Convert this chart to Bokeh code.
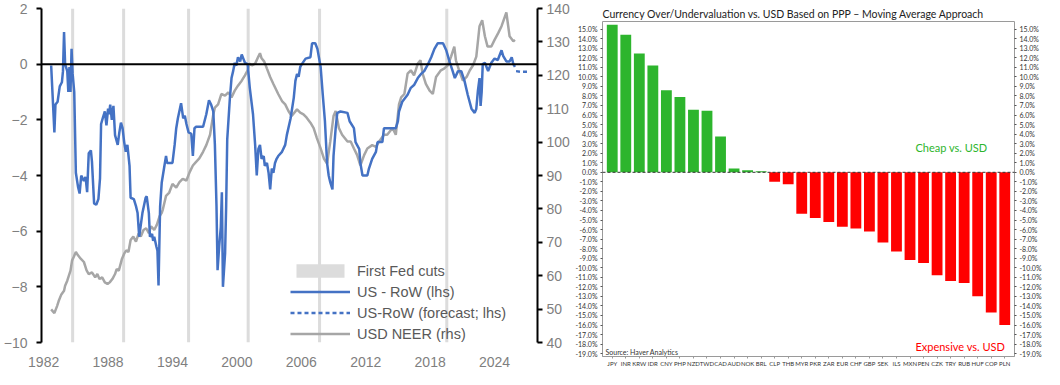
from bokeh.plotting import figure
from bokeh.models import (Range1d, LinearAxis, FixedTicker, Span, Label, Legend, LegendItem,
                          PrintfTickFormatter, SingleIntervalTicker, FactorRange)
from bokeh.layouts import row, column
from bokeh.embed import file_html
from bokeh.resources import INLINE

# ---------------- Left panel data ----------------
us_row_year = [1982.7, 1983.0, 1983.1, 1983.3, 1983.5, 1983.7, 1983.8, 1983.9, 1984.0, 1984.2, 1984.3, 1984.4,
               1984.5, 1984.6, 1984.7, 1984.85, 1985.0, 1985.2, 1985.35, 1985.5, 1985.75, 1985.9, 1986.05, 1986.2,
               1986.4, 1986.5, 1986.7, 1986.9, 1987.1, 1987.25, 1987.35, 1987.5, 1987.7, 1987.85, 1988.0, 1988.1,
               1988.2, 1988.35, 1988.5, 1988.65, 1988.9, 1989.05, 1989.2, 1989.35, 1989.5, 1989.65, 1989.8, 1990.0,
               1990.1, 1990.4, 1990.6, 1990.75, 1990.9, 1991.2, 1991.5, 1991.6, 1991.8, 1991.9, 1992.1, 1992.2,
               1992.3, 1992.5, 1992.6, 1992.7, 1992.85, 1993.0, 1993.25, 1993.4, 1993.5, 1994.0, 1994.2, 1994.35,
               1994.5, 1994.8, 1995.0, 1995.15, 1995.3, 1995.5, 1995.75, 1995.9, 1996.05, 1996.2, 1996.85, 1997.15,
               1997.4, 1997.6, 1997.8, 1997.95, 1998.1, 1998.2, 1998.35, 1998.5, 1998.6, 1998.7, 1998.9, 1999.0,
               1999.1, 1999.35, 1999.5, 1999.65, 1999.8, 1999.95, 2000.1, 2000.3, 2000.45, 2000.6, 2000.75, 2001.0,
               2001.2, 2001.5, 2001.7, 2001.85, 2002.0, 2002.15, 2002.3, 2002.5, 2002.6, 2002.8, 2002.95, 2003.1,
               2003.25, 2003.4, 2003.55, 2003.7, 2003.85, 2004.2, 2004.5, 2004.65, 2005.0, 2005.3, 2005.45, 2005.6,
               2005.75, 2005.9, 2006.05, 2006.4, 2006.85, 2007.0, 2007.3, 2007.5, 2007.8, 2008.0, 2008.2, 2008.4,
               2008.55, 2008.7, 2008.9, 2009.0, 2009.2, 2009.35, 2009.65, 2010.3, 2010.5, 2010.9, 2011.05, 2011.4,
               2011.5, 2011.7, 2012.15, 2012.3, 2012.6, 2012.95, 2013.1, 2013.55, 2013.7, 2014.8, 2015.0, 2015.1,
               2015.4, 2015.9, 2016.2, 2016.5, 2016.85, 2017.15, 2017.45, 2017.8, 2018.1, 2018.4, 2018.7, 2019.2,
               2019.5, 2019.8, 2020.1, 2020.3, 2020.6, 2020.9, 2021.2, 2021.5, 2021.85, 2022.15, 2022.3, 2022.45,
               2022.6, 2022.7, 2022.8, 2022.9, 2023.1, 2023.4, 2023.7, 2024.0, 2024.3, 2024.65, 2024.8, 2025.1,
               2025.4, 2025.6, 2025.75, 2025.9]
us_row_val = [-0.05, -2.45, -1.45, -1.35, -0.8, -0.65, -0.25, 1.15, 0.0, -0.25, -1.0, -0.1,
              -1.0, 0.55, -0.35, -1.0, -3.9, -4.4, -4.65, -4.0, -4.2, -4.05, -4.6, -3.2,
              -3.1, -3.5, -5.0, -5.05, -4.85, -4.1, -2.15, -1.95, -1.7, -2.2, -1.6, -1.8,
              -1.45, -2.0, -1.5, -2.55, -2.9, -2.45, -2.1, -2.3, -2.8, -3.15, -2.9, -3.65,
              -4.8, -4.85, -5.1, -5.35, -6.2, -5.35, -4.8, -4.75, -5.35, -6.2, -6.1, -6.35,
              -6.2, -6.55, -6.7, -7.95, -5.1, -4.25, -3.65, -3.3, -3.55, -3.55, -2.9, -2.3,
              -1.95, -1.4, -1.95, -1.85, -2.15, -2.45, -2.5, -3.3, -2.3, -2.25, -2.25, -1.8,
              -1.3, -1.45, -1.7, -2.9, -5.1, -7.4, -6.55, -5.85, -4.6, -8.0, -6.8, -5.1,
              -2.7, -1.2, -0.5, -0.25, 0.05, -0.05, 0.25, 0.1, 0.35, 0.2, 0.05, 0.0,
              -0.85, -1.8, -2.9, -4.0, -3.05, -2.9, -3.4, -3.3, -3.65, -3.55, -3.9, -4.5,
              -3.75, -3.9, -3.55, -3.4, -3.3, -3.15, -2.9, -2.55, -1.95, -1.2, -0.6, -0.35,
              -0.45, -0.1, 0.0, 0.2, 0.25, 0.75, 0.75, 0.55, -0.1, -1.1, -2.05, -3.55,
              -4.0, -4.25, -4.5, -3.3, -2.3, -1.75, -1.7, -1.75, -2.05, -2.3, -2.8, -3.05,
              -3.55, -4.0, -4.0, -3.75, -3.4, -3.15, -2.8, -2.8, -2.3, -2.3, -2.05, -1.7,
              -1.35, -1.1, -0.85, -0.75, -0.5, -0.35, -0.25, 0.0, 0.25, 0.55, 0.75, 0.75,
              0.5, 0.1, -0.25, -0.5, -0.25, -0.25, -0.6, -1.1, -1.6, -1.75, -1.6, -0.95,
              -0.5, -1.5, -1.0, 0.0, 0.05, -0.25, 0.05, 0.2, 0.15, 0.5, 0.3, 0.1,
              0.1, 0.25, 0.0, -0.1]

forecast_year = [2026.0, 2026.4, 2026.8, 2027.2]
forecast_val = [-0.25, -0.27, -0.27, -0.27]

neer_year = [1982.7, 1983.0, 1983.25, 1983.4, 1983.65, 1983.9, 1984.0, 1984.2, 1984.5, 1984.65, 1984.8, 1985.0,
             1985.2, 1985.45, 1985.75, 1986.0, 1986.2, 1986.5, 1986.8, 1987.0, 1987.2, 1987.45, 1987.7, 1987.95,
             1988.15, 1988.4, 1988.65, 1988.8, 1989.0, 1989.3, 1989.5, 1989.7, 1989.9, 1990.1, 1990.35, 1990.6,
             1990.85, 1991.05, 1991.3, 1991.55, 1991.8, 1992.0, 1992.3, 1992.55, 1992.8, 1993.0, 1993.1, 1993.4,
             1993.7, 1994.0, 1994.35, 1994.65, 1994.95, 1995.3, 1995.6, 1995.9, 1996.2, 1996.5, 1996.85, 1997.15,
             1997.5, 1997.8, 1997.95, 1998.25, 1998.55, 1998.9, 1999.2, 1999.5, 1999.8, 2000.1, 2000.45, 2000.75,
             2001.0, 2001.15, 2001.4, 2001.7, 2002.0, 2002.15, 2002.3, 2002.55, 2002.8, 2003.1, 2003.4, 2003.85,
             2004.2, 2004.5, 2004.8, 2005.1, 2005.6, 2005.9, 2006.2, 2006.5, 2006.85, 2007.15, 2007.45, 2007.8,
             2008.1, 2008.4, 2008.7, 2009.0, 2009.2, 2009.5, 2009.8, 2010.3, 2010.6, 2010.9, 2011.2, 2011.5,
             2011.85, 2012.15, 2012.6, 2012.95, 2013.25, 2013.7, 2014.0, 2014.5, 2014.8, 2015.1, 2015.3, 2015.6,
             2015.9, 2016.2, 2016.5, 2016.85, 2017.1, 2017.3, 2017.6, 2017.95, 2018.25, 2018.55, 2019.0, 2019.3,
             2019.65, 2019.95, 2020.25, 2020.4, 2020.7, 2021.05, 2021.4, 2021.7, 2022.0, 2022.3, 2022.6, 2022.85,
             2023.1, 2023.35, 2023.7, 2024.0, 2024.35, 2024.65, 2025.1, 2025.4, 2025.75, 2025.9]
neer_val = [49.9, 48.8, 50.9, 52.4, 54.4, 55.5, 57.0, 58.5, 61.5, 64.6, 65.6, 67.1,
            66.1, 65.1, 64.1, 61.6, 60.5, 61.0, 59.5, 60.5, 59.0, 59.5, 58.0, 57.5,
            58.0, 59.0, 60.5, 62.0, 61.5, 65.1, 66.6, 67.6, 67.1, 70.7, 71.7, 70.2,
            72.7, 71.7, 73.7, 74.2, 72.7, 74.8, 73.7, 75.3, 77.8, 78.8, 79.8, 83.9,
            84.9, 87.5, 86.4, 88.0, 89.0, 88.5, 91.0, 93.0, 94.1, 95.1, 97.1, 99.1,
            102.2, 108.3, 110.3, 111.3, 114.4, 113.9, 114.9, 113.4, 115.4, 116.9, 118.4, 120.0,
            121.5, 123.5, 123.0, 123.5, 125.6, 126.6, 125.1, 124.1, 122.0, 119.5, 117.4, 114.4,
            112.3, 111.3, 109.3, 107.8, 109.8, 108.8, 108.3, 107.3, 105.8, 104.2, 101.2, 98.1,
            95.1, 93.6, 100.2, 107.8, 109.3, 104.2, 102.2, 100.2, 100.2, 98.1, 96.1, 93.0,
            96.1, 98.1, 99.1, 98.6, 100.2, 102.2, 102.2, 104.2, 102.2, 111.3, 113.4, 114.4,
            120.5, 121.5, 120.0, 123.5, 124.5, 120.5, 117.4, 115.4, 114.4, 119.5, 121.5, 122.0,
            123.0, 125.6, 128.6, 124.5, 121.5, 118.4, 119.5, 121.5, 123.0, 125.6, 134.7, 136.5,
            131.7, 128.6, 128.6, 130.6, 132.7, 134.7, 138.8, 131.7, 130.2, 130.6]

fed_cut_year = [1984.7, 1989.45, 1995.5, 2001.05, 2007.7, 2019.55]
x_tick_years = [1982, 1988, 1994, 2000, 2006, 2012, 2018, 2024]
lhs_ticks = [-10, -8, -6, -4, -2, 0, 2]
rhs_ticks = [40, 50, 60, 70, 80, 90, 100, 110, 120, 130, 140]

# ---------------- Right panel data ----------------
currencies = ["JPY", "INR", "KRW", "IDR", "CNY", "PHP", "NZD", "TWD", "CAD", "AUD", "NOK", "BRL",
              "CLP", "THB", "MYR", "PKR", "ZAR", "EUR", "CHF", "GBP", "SEK", "ILS", "MXN", "PEN",
              "CZK", "TRY", "RUB", "HUF", "COP", "PLN"]
misvaluation = [15.45, 14.4, 12.45, 11.2, 8.6, 7.9, 6.55, 6.45, 3.75, 0.4, 0.22, 0.12,
                -1.0, -1.25, -4.35, -4.8, -5.2, -5.7, -5.9, -6.2, -7.35, -8.3, -9.2, -9.5,
                -10.8, -11.4, -11.6, -13.0, -14.7, -16.0]

SANS = "'Liberation Sans', Arial, sans-serif"
GRAYTXT = "#7f7f7f"

# ================= Left figure =================
p1 = figure(width=572, height=369, x_range=Range1d(1981.8, 2028.0), y_range=Range1d(-10, 2),
            output_backend="svg", toolbar_location=None,
            min_border_left=35, min_border_top=8, min_border_bottom=22, min_border_right=5)
p1.extra_y_ranges = {"neer": Range1d(40, 140)}
p1.xgrid.visible = False
p1.ygrid.visible = False
p1.outline_line_color = None

xa = p1.xaxis[0]
xa.ticker = FixedTicker(ticks=x_tick_years)
xa.axis_line_color = None
xa.major_tick_line_color = None
xa.major_tick_out = 0
xa.major_tick_in = 0
xa.minor_tick_line_color = None
xa.major_label_text_font = SANS
xa.major_label_text_font_size = "14px"
xa.major_label_text_color = GRAYTXT
xa.major_label_standoff = 14

ya = p1.yaxis[0]
ya.ticker = FixedTicker(ticks=lhs_ticks)
ra = LinearAxis(y_range_name="neer", ticker=FixedTicker(ticks=rhs_ticks))
p1.add_layout(ra, "right")
for ax in (ya, ra):
    ax.axis_line_color = "black"
    ax.axis_line_width = 2
    ax.major_tick_line_color = "black"
    ax.major_tick_line_width = 2
    ax.major_tick_out = 5
    ax.major_tick_in = 0
    ax.minor_tick_line_color = None
    ax.major_label_text_font = SANS
    ax.major_label_text_font_size = "14px"
    ax.major_label_text_color = GRAYTXT
    ax.major_label_standoff = 4
ya.major_label_standoff = 9

r_fed = p1.vbar(x=fed_cut_year, width=0.28, bottom=-10, top=2, fill_color="#dcdcdc", line_color=None)
r_neer = p1.line(neer_year, neer_val, color="#a6a6a6", line_width=2.5, y_range_name="neer")
r_us = p1.line(us_row_year, us_row_val, color="#4472c4", line_width=2.5)
r_fc = p1.line(forecast_year, forecast_val, color="#4472c4", line_width=2.5, line_dash="4 3")
p1.add_layout(Span(location=0, dimension="width", line_color="black", line_width=2))

legend = Legend(items=[LegendItem(label="First Fed cuts", renderers=[r_fed]),
                       LegendItem(label="US - RoW (lhs)", renderers=[r_us]),
                       LegendItem(label="US-RoW (forecast; lhs)", renderers=[r_fc]),
                       LegendItem(label="USD NEER (rhs)", renderers=[r_neer])],
                location=(249, 0), border_line_color=None, background_fill_alpha=0,
                label_text_font=SANS, label_text_font_size="14.5px", label_text_color="#595959",
                glyph_width=60, glyph_height=17, spacing=4, padding=0, margin=0, label_standoff=7,
                label_height=17)
p1.add_layout(legend)

# ================= Right figure =================
bar_colors = ["#2db52d" if v >= 0 else "#ff0000" for v in misvaluation]

p2 = figure(width=472, height=369,
            x_range=FactorRange(*currencies, range_padding=0.22, range_padding_units="absolute"),
            y_range=Range1d(-19.3, 15.8), output_backend="svg", toolbar_location=None,
            min_border_top=21, min_border_bottom=0, min_border_left=2, min_border_right=2,
            title="Currency Over/Undervaluation vs. USD Based on PPP \u2013 Moving Average Approach")
p2.title.text_font = "Lato"
p2.title.text_font_size = "10.5px"
p2.title.text_font_style = "normal"
p2.title.text_color = "#222222"
p2.title.standoff = 3
p2.xgrid.visible = False
p2.ygrid.visible = False
p2.outline_line_color = "#9a9a9a"
p2.outline_line_width = 1

p2.vbar(x=currencies, top=misvaluation, width=0.8, fill_color=bar_colors, line_color=None)
p2.add_layout(Span(location=0, dimension="width", line_color="#333333", line_dash="3 2", line_width=1))

bx = p2.xaxis[0]
bx.axis_line_color = "#9a9a9a"
bx.major_tick_line_color = "#9a9a9a"
bx.major_tick_out = 2
bx.major_tick_in = 0
bx.major_label_text_font = "Lato"
bx.major_label_text_font_size = "6px"
bx.major_label_text_color = "#333333"
bx.major_label_standoff = 1

ly = p2.yaxis[0]
ly.ticker = SingleIntervalTicker(interval=1)
ly.formatter = PrintfTickFormatter(format="%.1f%%")
ry = LinearAxis(ticker=SingleIntervalTicker(interval=1), formatter=PrintfTickFormatter(format="%.1f%%"))
p2.add_layout(ry, "right")
for ax in (ly, ry):
    ax.axis_line_color = None
    ax.major_tick_line_color = "#555555"
    ax.major_tick_out = 2
    ax.major_tick_in = 0
    ax.minor_tick_line_color = None
    ax.major_label_text_font = "Lato"
    ax.major_label_text_font_size = "7px"
    ax.major_label_text_color = "#333333"
    ax.major_label_standoff = 1

p2.add_layout(Label(x=22.9, y=2.65, text="Cheap vs. USD", text_font="Lato", text_font_size="11px",
                    text_color="#2db52d", text_baseline="middle", text_align="left"))
p2.add_layout(Label(x=22.9, y=-18.3, text="Expensive vs. USD", text_font="Lato", text_font_size="11px",
                    text_color="#ff0000", text_baseline="middle", text_align="left"))
p2.add_layout(Label(x=0.0, y=-18.8, text="Source: Haver Analytics", text_font="Lato", text_font_size="7px",
                    text_color="#333333", text_baseline="middle", text_align="left"))

layout = row(column(p1), column(p2))
open("out.html", "w").write(file_html(layout, INLINE))
